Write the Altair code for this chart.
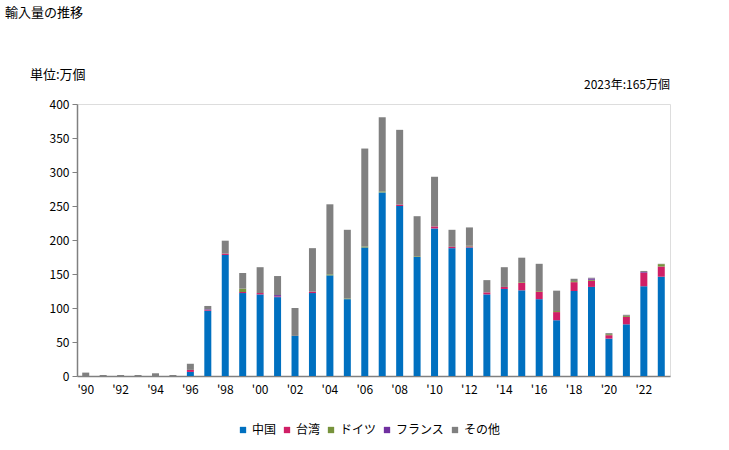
import altair as alt
import pandas as pd

years = list(range(1990, 2024))
china = [0, 0, 0, 0, 0, 0, 6, 96, 178, 122, 120, 116, 59, 122, 148, 113, 189, 270, 250, 175,
         217, 188, 189, 120, 128, 126, 113, 82, 125, 131, 55, 76, 132, 146]
taiwan = [0, 0, 0, 0, 0, 0, 3, 1, 2, 1.5, 2, 1, 0, 2, 0, 0, 0, 0, 2, 0,
          3, 2, 1.5, 3, 3, 11, 11, 12, 13, 9, 5, 11, 20, 15]
germany = [0, 0, 0, 0, 0, 0, 0, 0, 0, 5, 0, 0, 0, 0, 1.5, 1, 1.5, 1.5, 0, 1,
           0, 0, 1, 0, 0, 1, 1, 1.5, 1.5, 1.5, 1.5, 1.5, 0, 3.5]
france = [0, 0, 0, 0, 0, 0, 0, 1, 0, 0, 0, 2, 0, 0, 0, 0, 0, 0, 0, 0,
          0, 0, 0, 0, 0, 0, 0, 0, 0, 2, 0, 0, 1, 0]
other = [5, 1.5, 1.5, 1.5, 4, 1.5, 9, 5, 19, 23, 38, 28, 41, 64, 103, 101, 144, 109, 110, 59,
         73, 25, 27, 18, 29, 36, 40, 30, 3.5, 1, 1.5, 1.5, 1.5, 0.5]

series_names = ["中国", "台湾", "ドイツ", "フランス", "その他"]
series_colors = ["#0070C0", "#D01F66", "#77933C", "#7030A0", "#808080"]
series_values = [china, taiwan, germany, france, other]

title_text = "輸入量の推移"
unit_text = "単位:万個"
note_text = "2023年:165万個"

rows = []
for si, (name, vals) in enumerate(zip(series_names, series_values)):
    for y, v in zip(years, vals):
        rows.append({"year": y, "series": name, "value": v, "order": si})
df = pd.DataFrame(rows)

FONT = "Noto Sans CJK JP"

bars = alt.Chart(df).mark_bar(size=7).encode(
    x=alt.X("year:O", title=None,
            axis=alt.Axis(labelExpr="datum.value % 2 == 0 ? \"'\" + substring(toString(datum.value), 2) : ''",
                          labelAngle=0, ticks=False, domainColor="#808080", domainWidth=1.5,
                          labelPadding=8, labelFontSize=12, labelColor="#000")),
    y=alt.Y("value:Q", title=None, stack="zero",
            scale=alt.Scale(domain=[0, 400], nice=False),
            axis=alt.Axis(values=list(range(0, 401, 50)), grid=False, tickSize=5,
                          tickColor="#808080", domainColor="#808080", domainWidth=1.5,
                          labelPadding=3, labelFontSize=12, labelColor="#000")),
    color=alt.Color("series:N", sort=series_names,
                    scale=alt.Scale(domain=series_names, range=series_colors),
                    legend=alt.Legend(title=None, orient="none", legendX=160, legendY=320,
                                      direction="horizontal", symbolType="square",
                                      symbolSize=40, symbolStrokeWidth=0,
                                      labelFontSize=12, labelOffset=3, columnPadding=4,
                                      labelColor="#000")),
    order=alt.Order("order:Q"),
)

def label(txt, x, y, align="left", size=12):
    return alt.Chart(pd.DataFrame({"t": [txt]})).mark_text(
        align=align, baseline="middle", fontSize=size, font=FONT, color="#000"
    ).encode(text="t:N", x=alt.value(x), y=alt.value(y))

chart = alt.layer(
    bars,
    label(title_text, -72, -91, size=13),
    label(unit_text, -47, -29, size=13),
    label(note_text, 593, -19, align="right", size=12),
).properties(
    width=593, height=272,
    autosize=alt.AutoSizeParams(type="none"),
    padding={"left": 77, "top": 104, "right": 59, "bottom": 74},
).configure_view(
    stroke="#C8BE96", strokeWidth=1.5
).configure(
    font=FONT
).configure_axis(
    labelFont=FONT
).configure_legend(
    labelFont=FONT
)

chart.save("out.html", embed_options={"renderer": "svg", "actions": False})
